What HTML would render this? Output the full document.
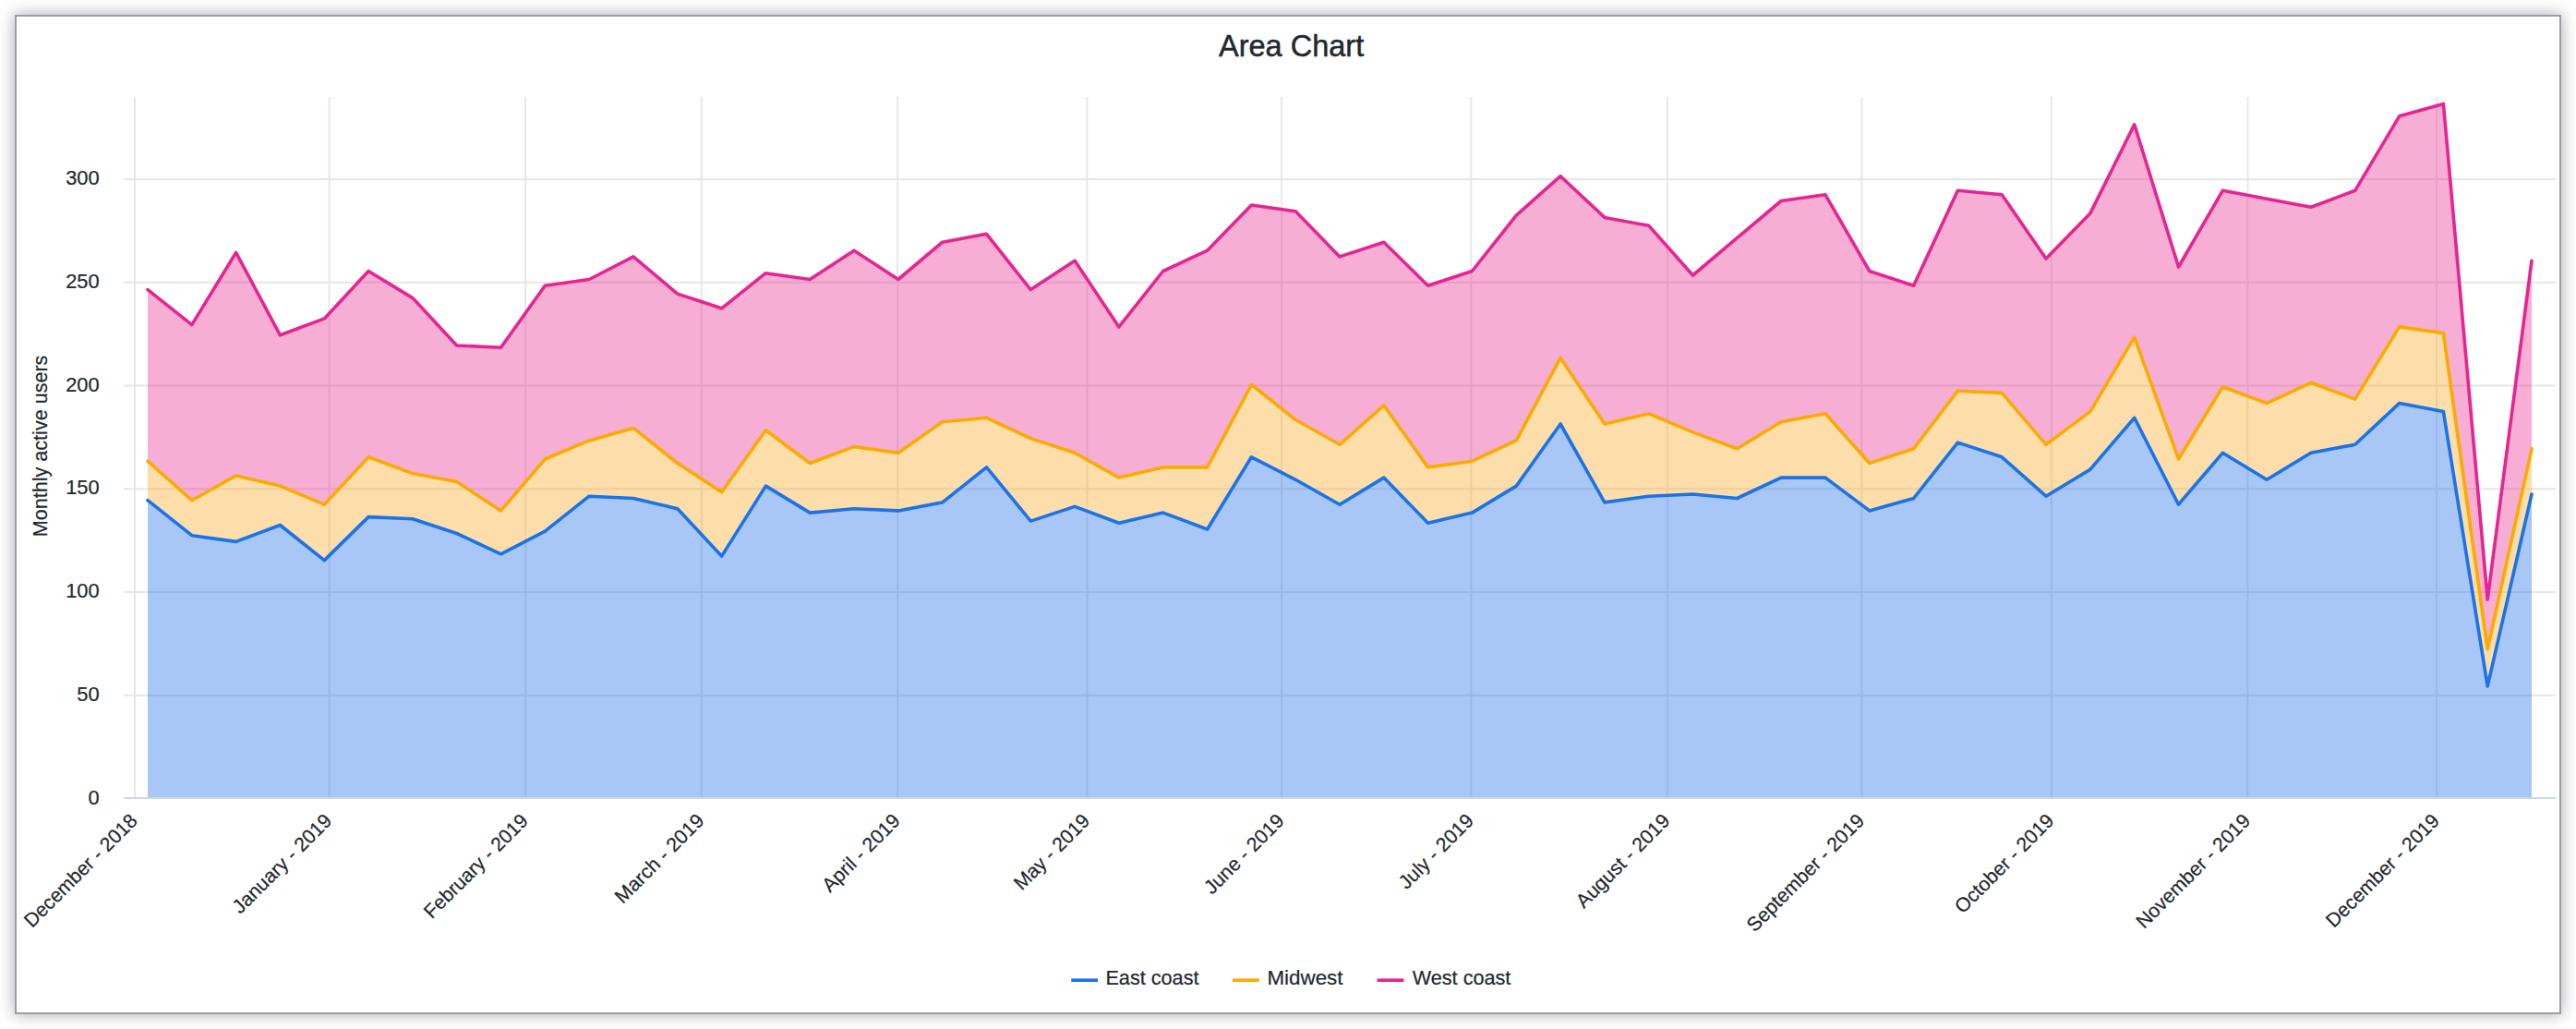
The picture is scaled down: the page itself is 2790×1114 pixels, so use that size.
<!DOCTYPE html>
<html lang="en"><head><meta charset="utf-8"><title>Area Chart</title>
<style>
html,body{margin:0;padding:0;background:#fff}
body{width:2790px;height:1114px;position:relative;overflow:hidden;font-family:"Liberation Sans",sans-serif}
.frame{position:absolute;left:16px;top:16px;width:2754px;height:1077.7px;border:2px solid #9b9da2;background:#fff;box-shadow:0 0 16px rgba(20,25,40,.38)}
</style></head><body>
<div class="frame"></div>
<svg width="2790" height="1114" viewBox="0 0 2790 1114" style="position:absolute;left:0;top:0;font-family:'Liberation Sans',sans-serif">
<g stroke="#e6e6e6" stroke-width="1.9" fill="none"><path d="M146.0 104.9V863.0"/><path d="M356.6 104.9V863.0"/><path d="M569.1 104.9V863.0"/><path d="M759.8 104.9V863.0"/><path d="M972.1 104.9V863.0"/><path d="M1177.5 104.9V863.0"/><path d="M1388.1 104.9V863.0"/><path d="M1593.3 104.9V863.0"/><path d="M1805.8 104.9V863.0"/><path d="M2016.4 104.9V863.0"/><path d="M2221.8 104.9V863.0"/><path d="M2434.5 104.9V863.0"/><path d="M2639.2 104.9V863.0"/><path d="M134 752.76H2768"/><path d="M134 641.02H2768"/><path d="M134 529.28H2768"/><path d="M134 417.54H2768"/><path d="M134 305.80H2768"/><path d="M134 194.06H2768"/></g>
<path d="M160.0,541.7 L207.8,579.7 L255.6,586.4 L303.4,568.5 L351.3,606.6 L399.1,559.6 L446.9,561.8 L494.7,577.5 L542.5,599.8 L590.3,575.2 L638.1,537.2 L686.0,539.5 L733.8,550.7 L781.6,602.1 L829.4,526.1 L877.2,555.1 L925.0,550.7 L972.9,552.9 L1020.7,543.9 L1068.5,505.9 L1116.3,564.1 L1164.1,548.4 L1211.9,566.3 L1259.7,555.1 L1307.6,573.0 L1355.4,494.8 L1403.2,519.3 L1451.0,546.2 L1498.8,517.1 L1546.6,566.3 L1594.4,555.1 L1642.3,526.1 L1690.1,459.0 L1737.9,543.9 L1785.7,537.2 L1833.5,535.0 L1881.3,539.5 L1929.1,517.1 L1977.0,517.1 L2024.8,552.9 L2072.6,539.5 L2120.4,479.1 L2168.2,494.8 L2216.0,537.2 L2263.9,508.2 L2311.7,452.3 L2359.5,546.2 L2407.3,490.3 L2455.1,519.3 L2502.9,490.3 L2550.7,481.3 L2598.6,436.6 L2646.4,445.6 L2694.2,742.9 L2742.0,535.0 L2742.0,865.0 L160.0,865.0Z" fill="#2873e8" fill-opacity="0.4"/>
<path d="M160.0,499.2 L207.8,541.7 L255.6,514.9 L303.4,526.1 L351.3,546.2 L399.1,494.8 L446.9,512.6 L494.7,521.6 L542.5,552.9 L590.3,497.0 L638.1,476.9 L686.0,463.4 L733.8,501.5 L781.6,532.8 L829.4,465.7 L877.2,501.5 L925.0,483.6 L972.9,490.3 L1020.7,456.7 L1068.5,452.3 L1116.3,474.6 L1164.1,490.3 L1211.9,517.1 L1259.7,505.9 L1307.6,505.9 L1355.4,416.5 L1403.2,454.5 L1451.0,481.3 L1498.8,438.9 L1546.6,505.9 L1594.4,499.2 L1642.3,476.9 L1690.1,387.4 L1737.9,459.0 L1785.7,447.8 L1833.5,467.9 L1881.3,485.8 L1929.1,456.7 L1977.0,447.8 L2024.8,501.5 L2072.6,485.8 L2120.4,423.2 L2168.2,425.4 L2216.0,481.3 L2263.9,445.6 L2311.7,365.1 L2359.5,497.0 L2407.3,418.7 L2455.1,436.6 L2502.9,414.3 L2550.7,432.1 L2598.6,353.9 L2646.4,360.6 L2694.2,702.7 L2742.0,485.8 L2742.0,535.0 L2694.2,742.9 L2646.4,445.6 L2598.6,436.6 L2550.7,481.3 L2502.9,490.3 L2455.1,519.3 L2407.3,490.3 L2359.5,546.2 L2311.7,452.3 L2263.9,508.2 L2216.0,537.2 L2168.2,494.8 L2120.4,479.1 L2072.6,539.5 L2024.8,552.9 L1977.0,517.1 L1929.1,517.1 L1881.3,539.5 L1833.5,535.0 L1785.7,537.2 L1737.9,543.9 L1690.1,459.0 L1642.3,526.1 L1594.4,555.1 L1546.6,566.3 L1498.8,517.1 L1451.0,546.2 L1403.2,519.3 L1355.4,494.8 L1307.6,573.0 L1259.7,555.1 L1211.9,566.3 L1164.1,548.4 L1116.3,564.1 L1068.5,505.9 L1020.7,543.9 L972.9,552.9 L925.0,550.7 L877.2,555.1 L829.4,526.1 L781.6,602.1 L733.8,550.7 L686.0,539.5 L638.1,537.2 L590.3,575.2 L542.5,599.8 L494.7,577.5 L446.9,561.8 L399.1,559.6 L351.3,606.6 L303.4,568.5 L255.6,586.4 L207.8,579.7 L160.0,541.7Z" fill="#faaa2a" fill-opacity="0.4"/>
<path d="M160.0,313.6 L207.8,351.6 L255.6,273.4 L303.4,362.8 L351.3,344.9 L399.1,293.5 L446.9,322.6 L494.7,374.0 L542.5,376.2 L590.3,309.2 L638.1,302.5 L686.0,277.9 L733.8,318.1 L781.6,333.8 L829.4,295.7 L877.2,302.5 L925.0,271.2 L972.9,302.5 L1020.7,262.2 L1068.5,253.3 L1116.3,313.6 L1164.1,282.3 L1211.9,353.9 L1259.7,293.5 L1307.6,271.2 L1355.4,222.0 L1403.2,228.7 L1451.0,277.9 L1498.8,262.2 L1546.6,309.2 L1594.4,293.5 L1642.3,233.1 L1690.1,190.7 L1737.9,235.4 L1785.7,244.3 L1833.5,298.0 L1881.3,257.7 L1929.1,217.5 L1977.0,210.8 L2024.8,293.5 L2072.6,309.2 L2120.4,206.3 L2168.2,210.8 L2216.0,280.1 L2263.9,230.9 L2311.7,134.8 L2359.5,289.0 L2407.3,206.3 L2455.1,215.3 L2502.9,224.2 L2550.7,206.3 L2598.6,125.8 L2646.4,112.4 L2694.2,649.0 L2742.0,282.3 L2742.0,485.8 L2694.2,702.7 L2646.4,360.6 L2598.6,353.9 L2550.7,432.1 L2502.9,414.3 L2455.1,436.6 L2407.3,418.7 L2359.5,497.0 L2311.7,365.1 L2263.9,445.6 L2216.0,481.3 L2168.2,425.4 L2120.4,423.2 L2072.6,485.8 L2024.8,501.5 L1977.0,447.8 L1929.1,456.7 L1881.3,485.8 L1833.5,467.9 L1785.7,447.8 L1737.9,459.0 L1690.1,387.4 L1642.3,476.9 L1594.4,499.2 L1546.6,505.9 L1498.8,438.9 L1451.0,481.3 L1403.2,454.5 L1355.4,416.5 L1307.6,505.9 L1259.7,505.9 L1211.9,517.1 L1164.1,490.3 L1116.3,474.6 L1068.5,452.3 L1020.7,456.7 L972.9,490.3 L925.0,483.6 L877.2,501.5 L829.4,465.7 L781.6,532.8 L733.8,501.5 L686.0,463.4 L638.1,476.9 L590.3,497.0 L542.5,552.9 L494.7,521.6 L446.9,512.6 L399.1,494.8 L351.3,546.2 L303.4,526.1 L255.6,514.9 L207.8,541.7 L160.0,499.2Z" fill="#eb3594" fill-opacity="0.4"/>
<path d="M134 864.0H2768" stroke="#ccd6eb" stroke-width="2" fill="none"/>
<g fill="none" stroke-width="3.6" stroke-linejoin="round" stroke-linecap="round">
<path d="M160.0,541.7 L207.8,579.7 L255.6,586.4 L303.4,568.5 L351.3,606.6 L399.1,559.6 L446.9,561.8 L494.7,577.5 L542.5,599.8 L590.3,575.2 L638.1,537.2 L686.0,539.5 L733.8,550.7 L781.6,602.1 L829.4,526.1 L877.2,555.1 L925.0,550.7 L972.9,552.9 L1020.7,543.9 L1068.5,505.9 L1116.3,564.1 L1164.1,548.4 L1211.9,566.3 L1259.7,555.1 L1307.6,573.0 L1355.4,494.8 L1403.2,519.3 L1451.0,546.2 L1498.8,517.1 L1546.6,566.3 L1594.4,555.1 L1642.3,526.1 L1690.1,459.0 L1737.9,543.9 L1785.7,537.2 L1833.5,535.0 L1881.3,539.5 L1929.1,517.1 L1977.0,517.1 L2024.8,552.9 L2072.6,539.5 L2120.4,479.1 L2168.2,494.8 L2216.0,537.2 L2263.9,508.2 L2311.7,452.3 L2359.5,546.2 L2407.3,490.3 L2455.1,519.3 L2502.9,490.3 L2550.7,481.3 L2598.6,436.6 L2646.4,445.6 L2694.2,742.9 L2742.0,535.0" stroke="#1a73e8"/>
<path d="M160.0,499.2 L207.8,541.7 L255.6,514.9 L303.4,526.1 L351.3,546.2 L399.1,494.8 L446.9,512.6 L494.7,521.6 L542.5,552.9 L590.3,497.0 L638.1,476.9 L686.0,463.4 L733.8,501.5 L781.6,532.8 L829.4,465.7 L877.2,501.5 L925.0,483.6 L972.9,490.3 L1020.7,456.7 L1068.5,452.3 L1116.3,474.6 L1164.1,490.3 L1211.9,517.1 L1259.7,505.9 L1307.6,505.9 L1355.4,416.5 L1403.2,454.5 L1451.0,481.3 L1498.8,438.9 L1546.6,505.9 L1594.4,499.2 L1642.3,476.9 L1690.1,387.4 L1737.9,459.0 L1785.7,447.8 L1833.5,467.9 L1881.3,485.8 L1929.1,456.7 L1977.0,447.8 L2024.8,501.5 L2072.6,485.8 L2120.4,423.2 L2168.2,425.4 L2216.0,481.3 L2263.9,445.6 L2311.7,365.1 L2359.5,497.0 L2407.3,418.7 L2455.1,436.6 L2502.9,414.3 L2550.7,432.1 L2598.6,353.9 L2646.4,360.6 L2694.2,702.7 L2742.0,485.8" stroke="#f9ab00"/>
<path d="M160.0,313.6 L207.8,351.6 L255.6,273.4 L303.4,362.8 L351.3,344.9 L399.1,293.5 L446.9,322.6 L494.7,374.0 L542.5,376.2 L590.3,309.2 L638.1,302.5 L686.0,277.9 L733.8,318.1 L781.6,333.8 L829.4,295.7 L877.2,302.5 L925.0,271.2 L972.9,302.5 L1020.7,262.2 L1068.5,253.3 L1116.3,313.6 L1164.1,282.3 L1211.9,353.9 L1259.7,293.5 L1307.6,271.2 L1355.4,222.0 L1403.2,228.7 L1451.0,277.9 L1498.8,262.2 L1546.6,309.2 L1594.4,293.5 L1642.3,233.1 L1690.1,190.7 L1737.9,235.4 L1785.7,244.3 L1833.5,298.0 L1881.3,257.7 L1929.1,217.5 L1977.0,210.8 L2024.8,293.5 L2072.6,309.2 L2120.4,206.3 L2168.2,210.8 L2216.0,280.1 L2263.9,230.9 L2311.7,134.8 L2359.5,289.0 L2407.3,206.3 L2455.1,215.3 L2502.9,224.2 L2550.7,206.3 L2598.6,125.8 L2646.4,112.4 L2694.2,649.0 L2742.0,282.3" stroke="#e52592"/>
</g>
<text x="1398.6" y="60.8" text-anchor="middle" font-size="32.5" fill="#22282e" stroke="#22282e" stroke-width="0.5">Area Chart</text>
<g font-size="21.4" fill="#22282e" stroke="#22282e" stroke-width="0.2" text-anchor="end">
<text x="107.6" y="870.5" textLength="12.1" lengthAdjust="spacingAndGlyphs">0</text>
<text x="107.6" y="758.8" textLength="24.3" lengthAdjust="spacingAndGlyphs">50</text>
<text x="107.6" y="647.0" textLength="36.4" lengthAdjust="spacingAndGlyphs">100</text>
<text x="107.6" y="535.3" textLength="36.4" lengthAdjust="spacingAndGlyphs">150</text>
<text x="107.6" y="423.5" textLength="36.4" lengthAdjust="spacingAndGlyphs">200</text>
<text x="107.6" y="311.8" textLength="36.4" lengthAdjust="spacingAndGlyphs">250</text>
<text x="107.6" y="200.1" textLength="36.4" lengthAdjust="spacingAndGlyphs">300</text>
</g>
<text transform="translate(51,482.9) rotate(-90)" text-anchor="middle" font-size="21.4" fill="#22282e" stroke="#22282e" stroke-width="0.2" textLength="196.6" lengthAdjust="spacingAndGlyphs">Monthly active users</text>
<g font-size="21.4" fill="#22282e" stroke="#22282e" stroke-width="0.2" text-anchor="end">
<text transform="translate(150.1,889.9) rotate(-45)" textLength="163.3" lengthAdjust="spacingAndGlyphs">December - 2018</text>
<text transform="translate(360.7,889.9) rotate(-45)" textLength="141.9" lengthAdjust="spacingAndGlyphs">January - 2019</text>
<text transform="translate(573.2,889.9) rotate(-45)" textLength="149.2" lengthAdjust="spacingAndGlyphs">February - 2019</text>
<text transform="translate(763.9,889.9) rotate(-45)" textLength="126.3" lengthAdjust="spacingAndGlyphs">March - 2019</text>
<text transform="translate(976.2,889.9) rotate(-45)" textLength="109.2" lengthAdjust="spacingAndGlyphs">April - 2019</text>
<text transform="translate(1181.6,889.9) rotate(-45)" textLength="106.0" lengthAdjust="spacingAndGlyphs">May - 2019</text>
<text transform="translate(1392.2,889.9) rotate(-45)" textLength="112.4" lengthAdjust="spacingAndGlyphs">June - 2019</text>
<text transform="translate(1597.4,889.9) rotate(-45)" textLength="104.5" lengthAdjust="spacingAndGlyphs">July - 2019</text>
<text transform="translate(1809.9,889.9) rotate(-45)" textLength="133.4" lengthAdjust="spacingAndGlyphs">August - 2019</text>
<text transform="translate(2020.5,889.9) rotate(-45)" textLength="169.8" lengthAdjust="spacingAndGlyphs">September - 2019</text>
<text transform="translate(2225.9,889.9) rotate(-45)" textLength="141.6" lengthAdjust="spacingAndGlyphs">October - 2019</text>
<text transform="translate(2438.6,889.9) rotate(-45)" textLength="164.6" lengthAdjust="spacingAndGlyphs">November - 2019</text>
<text transform="translate(2643.3,889.9) rotate(-45)" textLength="163.3" lengthAdjust="spacingAndGlyphs">December - 2019</text>
</g>
<g font-size="21.4" fill="#22282e" stroke="#22282e" stroke-width="0.2">
<path d="M1160.2 1061.2h28.8" stroke="#1a73e8" stroke-width="3.6" fill="none"/>
<text x="1197.4" y="1066" textLength="101.1" lengthAdjust="spacingAndGlyphs">East coast</text>
<path d="M1335.0 1061.2h28.8" stroke="#f9ab00" stroke-width="3.6" fill="none"/>
<text x="1372.4" y="1066" textLength="82.1" lengthAdjust="spacingAndGlyphs">Midwest</text>
<path d="M1491.6 1061.2h28.8" stroke="#e52592" stroke-width="3.6" fill="none"/>
<text x="1529.7" y="1066" textLength="106.7" lengthAdjust="spacingAndGlyphs">West coast</text>
</g>
</svg>
</body></html>
